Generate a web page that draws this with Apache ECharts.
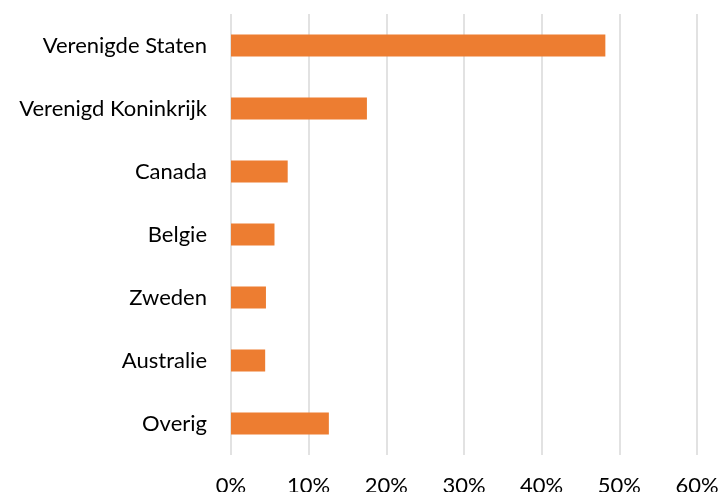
<!DOCTYPE html>
<html>
<head>
<meta charset="utf-8">
<script src="https://cdn.jsdelivr.net/npm/echarts@6/dist/echarts.min.js"></script>
<style>
  html, body { margin: 0; padding: 0; background: #fff; }
  #chart { width: 719px; height: 492px; }
</style>
</head>
<body>
<div id="chart"></div>
<script>
const countries = ['Verenigde Staten', 'Verenigd Koninkrijk', 'Canada', 'Belgie', 'Zweden', 'Australie', 'Overig'];
const shares = [48.2, 17.5, 7.3, 5.6, 4.5, 4.4, 12.6];
const xTicks = { min: 0, max: 60, interval: 10 };

const chart = echarts.init(document.getElementById('chart'));
chart.setOption({
  animation: false,
  textStyle: { fontFamily: 'Lato' },
  grid: { left: 231, right: 22, top: 14, bottom: 37, containLabel: false, outerBoundsMode: 'none' },
  xAxis: {
    type: 'value',
    min: xTicks.min,
    max: xTicks.max,
    interval: xTicks.interval,
    axisLine: { show: false },
    axisTick: { show: false },
    splitLine: { show: true, lineStyle: { color: '#d9d9d9', width: 1.5 } },
    axisLabel: {
      formatter: '{value}%',
      fontSize: 22,
      color: '#000',
      margin: 20,
      fontFamily: 'Lato'
    }
  },
  yAxis: {
    type: 'category',
    data: countries,
    inverse: true,
    axisLine: { show: false },
    axisTick: { show: false },
    axisLabel: {
      fontSize: 22,
      color: '#000',
      margin: 24,
      fontFamily: 'Lato'
    }
  },
  series: [{
    type: 'bar',
    data: shares,
    barWidth: '35%',
    itemStyle: { color: '#ED7D31' }
  }]
});
</script>
</body>
</html>
